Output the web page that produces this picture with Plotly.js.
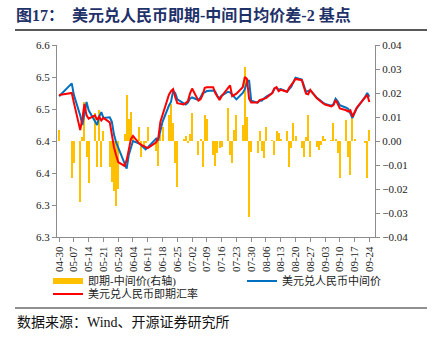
<!DOCTYPE html>
<html>
<head>
<meta charset="utf-8">
<script src="https://cdn.plot.ly/plotly-3.0.1.min.js"></script>
<style>html,body{margin:0;padding:0;background:#fff;}#chart{width:432px;height:339px;}</style>
</head>
<body>
<div id="chart"></div>
<script>
const dates = ["2021-04-30","2021-05-06","2021-05-07","2021-05-10","2021-05-11","2021-05-12","2021-05-13","2021-05-14",
"2021-05-17","2021-05-18","2021-05-19","2021-05-20","2021-05-21","2021-05-24","2021-05-25","2021-05-26","2021-05-27","2021-05-28",
"2021-05-31","2021-06-01","2021-06-02","2021-06-03","2021-06-04","2021-06-07","2021-06-08","2021-06-09","2021-06-10","2021-06-11",
"2021-06-15","2021-06-16","2021-06-17","2021-06-18","2021-06-21","2021-06-22","2021-06-23","2021-06-24","2021-06-25",
"2021-06-28","2021-06-29","2021-06-30","2021-07-01","2021-07-02","2021-07-05","2021-07-06","2021-07-07","2021-07-08","2021-07-09",
"2021-07-12","2021-07-13","2021-07-14","2021-07-15","2021-07-16","2021-07-19","2021-07-20","2021-07-21","2021-07-22","2021-07-23",
"2021-07-26","2021-07-27","2021-07-28","2021-07-29","2021-07-30","2021-08-02","2021-08-03","2021-08-04","2021-08-05","2021-08-06",
"2021-08-09","2021-08-10","2021-08-11","2021-08-12","2021-08-13","2021-08-16","2021-08-17","2021-08-18","2021-08-19","2021-08-20",
"2021-08-23","2021-08-24","2021-08-25","2021-08-26","2021-08-27","2021-08-30","2021-08-31","2021-09-01","2021-09-02","2021-09-03",
"2021-09-06","2021-09-07","2021-09-08","2021-09-09","2021-09-10","2021-09-13","2021-09-14","2021-09-15","2021-09-16","2021-09-17",
"2021-09-18","2021-09-22","2021-09-23","2021-09-24"];

const midRate = [6.470,6.490,6.472,6.440,6.425,6.443,6.461,6.448,
6.431,6.425,6.438,6.445,6.436,6.437,6.430,6.410,6.398,6.390,
6.365,6.357,6.378,6.390,6.400,6.396,6.393,6.390,6.387,6.390,
6.404,6.402,6.418,6.430,6.455,6.461,6.478,6.475,6.465,
6.459,6.457,6.460,6.466,6.468,6.464,6.468,6.475,6.476,6.478,
6.479,6.477,6.470,6.467,6.471,6.477,6.476,6.472,6.469,6.465,
6.475,6.481,6.492,6.495,6.463,6.460,6.463,6.463,6.466,6.469,
6.475,6.482,6.483,6.480,6.481,6.477,6.481,6.485,6.492,6.499,
6.496,6.487,6.477,6.478,6.479,6.468,6.465,6.462,6.460,6.458,
6.455,6.458,6.466,6.462,6.456,6.452,6.450,6.443,6.436,6.444,
6.451,6.469,6.475,6.469];

const spotRate = [6.472,6.475,6.460,6.417,6.435,6.458,6.440,6.435,
6.440,6.433,6.438,6.432,6.436,6.429,6.410,6.390,6.378,6.367,
6.361,6.370,6.386,6.403,6.408,6.396,6.394,6.392,6.390,6.389,
6.398,6.405,6.430,6.440,6.472,6.478,6.481,6.469,6.459,
6.457,6.459,6.462,6.474,6.482,6.463,6.465,6.472,6.483,6.484,
6.484,6.475,6.469,6.464,6.470,6.484,6.487,6.470,6.472,6.474,
6.484,6.500,6.497,6.466,6.460,6.460,6.464,6.465,6.465,6.467,
6.475,6.482,6.484,6.478,6.480,6.477,6.483,6.487,6.492,6.497,
6.495,6.484,6.474,6.473,6.480,6.467,6.464,6.461,6.459,6.457,
6.454,6.456,6.464,6.458,6.451,6.448,6.446,6.448,6.438,6.445,
6.452,6.468,6.472,6.461];

const spread = [0.0045,-0.0155,-0.009,-0.0253,0.0017,0.0164,-0.0065,-0.0176,
0.0117,-0.011,0.013,-0.011,0.004,-0.011,-0.017,-0.021,-0.027,-0.020,
0.003,0.019,0.009,0.012,0.002,0.006,-0.0065,-0.002,-0.001,0.0058,
-0.004,-0.0104,0.0025,0.006,0.011,0.0155,0.0075,-0.009,-0.019,
0.001,0.002,-0.001,0.003,0.0115,-0.006,0.001,-0.011,0.011,0.009,
-0.006,-0.0105,-0.005,-0.003,-0.0025,0.0136,-0.0058,-0.0093,0.0046,0.0108,
0.0067,0.0307,0.0101,-0.0315,-0.0045,-0.005,0.004,-0.004,-0.007,0.006,
0.0005,-0.006,0.004,0.0035,0.001,0.004,-0.0107,-0.003,0.0074,0.002,
-0.003,-0.0065,0.0015,0.0108,-0.0065,-0.0026,-0.0037,-0.0017,0.002,0.0007,
0.0005,0.0074,0.001,-0.005,-0.0156,0.0088,-0.0065,-0.0142,0.0115,0.001,
0,-0.001,-0.0156,0.0046];

const seriesNames = ["即期-中间价(右轴)", "美元兑人民币中间价", "美元兑人民币即期汇率"];
const leftTickVals = [6.25,6.30,6.35,6.40,6.45,6.50,6.55];
const leftTickText = ["6.3","6.3","6.4","6.4","6.5","6.5","6.6"];
const titleText = "<b>图17：  美元兑人民币即期-中间日均价差-2 基点</b>";
const sourceText = "数据来源：Wind、开源证券研究所";

const serif = "Liberation Serif, Noto Sans CJK SC, serif";
const W = 432, H = 339, L = 57, R = 375, T = 45, B = 237;
const px = x => (x - L) / (R - L);
const py = y => (B - y) / (B - T);
const DAY = 86400000;

const traces = [
  {type:'bar', x:dates, y:spread, xaxis:'x', yaxis:'y', marker:{color:'#FFC000', line:{width:0}},
   width:DAY*0.95, showlegend:false, hoverinfo:'skip'},
  {type:'scatter', mode:'lines', x:[null], y:[null], xaxis:'x', yaxis:'y', name:seriesNames[0],
   line:{color:'#FFC000', width:6}, legend:'legend', showlegend:true},
  {type:'scatter', mode:'lines', x:dates, y:midRate, xaxis:'x', yaxis:'y2', name:seriesNames[1],
   line:{color:'#0070C0', width:2}, legend:'legend2'},
  {type:'scatter', mode:'lines', x:dates, y:spotRate, xaxis:'x', yaxis:'y2', name:seriesNames[2],
   line:{color:'#FF0000', width:2}, legend:'legend3'}
];

const axisCommon = {showgrid:false, zeroline:false, showline:true, linecolor:'#8C8C8C', linewidth:1,
  ticks:'outside', ticklen:4, tickcolor:'#8C8C8C', tickfont:{family:serif, size:11, color:'#222'}};

const legendCommon = {bgcolor:'rgba(0,0,0,0)', font:{family:serif, size:11, color:'#222'},
  itemwidth:30, xanchor:'left', yanchor:'middle', orientation:'h'};

const layout = {
  width:W, height:H,
  margin:{l:L, r:W-R, t:T, b:H-B, pad:0},
  paper_bgcolor:'#fff', plot_bgcolor:'#fff',
  title:{text:titleText, font:{family:serif, size:16, color:'#1F3169'},
    xref:'container', yref:'container', x:16/W, xanchor:'left', y:1-15/H, yanchor:'middle'},
  xaxis:Object.assign({}, axisCommon, {type:'date', range:['2021-04-29','2021-09-26 16:00'],
    tick0:'2021-04-30', dtick:7*DAY, tickformat:'%m-%d', tickangle:-90}),
  yaxis:Object.assign({}, axisCommon, {side:'right', range:[-0.04,0.04], tick0:0, dtick:0.01, tickformat:'.2f'}),
  yaxis2:Object.assign({}, axisCommon, {overlaying:'y', side:'left', range:[6.25,6.55],
    tickmode:'array', tickvals:leftTickVals, ticktext:leftTickText}),
  legend:Object.assign({}, legendCommon, {x:px(48), y:py(281)}),
  legend2:Object.assign({}, legendCommon, {x:px(242), y:py(281)}),
  legend3:Object.assign({}, legendCommon, {x:px(48), y:py(294)}),
  shapes:[
    {type:'line', xref:'paper', yref:'paper', x0:px(15), x1:px(427), y0:py(30), y1:py(30), line:{color:'#222', width:1.5}},
    {type:'line', xref:'paper', yref:'paper', x0:px(15), x1:px(427), y0:py(308), y1:py(308), line:{color:'#222', width:1.2}}
  ],
  annotations:[
    {text:sourceText, xref:'paper', yref:'paper', x:px(15), y:py(322), xanchor:'left', yanchor:'middle',
     showarrow:false, font:{family:serif, size:14, color:'#111'}}
  ],
  bargap:0
};

Plotly.newPlot('chart', traces, layout, {staticPlot:true, displayModeBar:false});
</script>
</body>
</html>
